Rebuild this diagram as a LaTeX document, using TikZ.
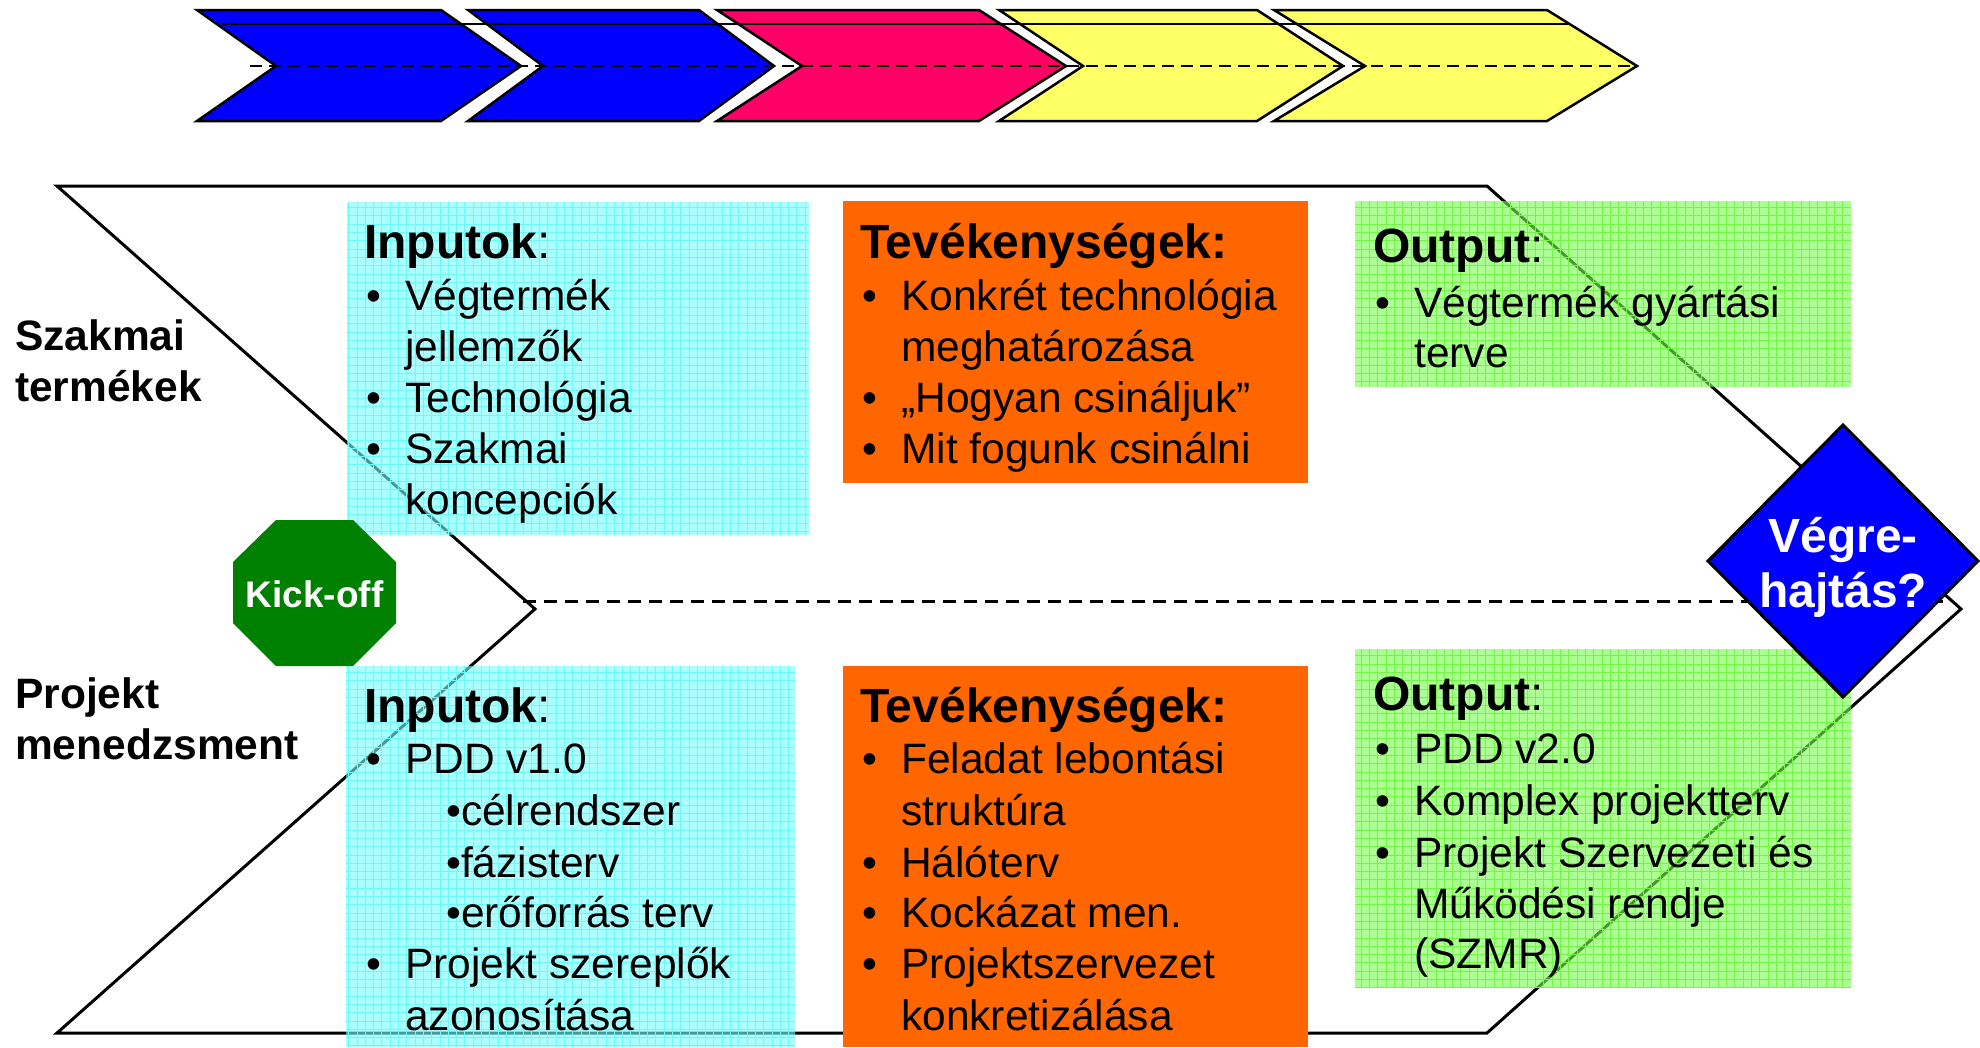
\documentclass[tikz,border=0pt]{standalone}
\usepackage{fontspec}
\setmainfont{Liberation Sans}
\definecolor{cyfill}{RGB}{118,255,255}
\definecolor{cygrid}{RGB}{110,248,248}
\definecolor{grfill}{RGB}{118,255,75}
\definecolor{grgrid}{RGB}{115,245,70}
\definecolor{orfill}{RGB}{255,102,0}
\definecolor{chblue}{RGB}{0,0,255}
\definecolor{chred}{RGB}{255,0,102}
\definecolor{chyel}{RGB}{255,255,102}
\definecolor{kgreen}{RGB}{0,128,0}
\newcommand\bodyf{\fontsize{42.5pt}{51pt}\selectfont}
\newcommand\headf{\fontsize{48pt}{55pt}\selectfont}
\newcommand\bulit[1]{\makebox[39pt][l]{•}#1}
\tikzset{
  ln/.style={inner sep=0pt, anchor=base west, font=\bodyf},
  hd/.style={inner sep=0pt, anchor=base west, font=\headf},
  lab/.style={inner sep=0pt, anchor=base west, font=\bodyf\bfseries},
  topchev/.style={draw=black, line width=2.5pt, line join=miter},
  mainline/.style={draw=black, line width=3pt, line join=miter},
}
\newcommand\gbox[5]{% fill, grid, opacity, corner1, corner2
  \fill[#1, fill opacity=#3] #4 rectangle #5;
  \begin{scope}
    \clip #4 rectangle #5;
    \draw[#2, line width=0.8pt, step=8.3pt] #4 grid #5;
  \end{scope}
}
\begin{document}
\begin{tikzpicture}[x=1pt,y=-1pt]
\useasboundingbox[fill=white] (0,0) rectangle (1980,1047);

% ---- top chevrons ----
\filldraw[topchev, fill=chblue] (197,10) -- (441,10) -- (521,66) -- (441,121) -- (197,121) -- (276,66) -- cycle;
\filldraw[topchev, fill=chblue] (468,10) -- (699,10) -- (774,66) -- (699,121) -- (468,121) -- (543,66) -- cycle;
\filldraw[topchev, fill=chred] (717,10) -- (979,10) -- (1066,66) -- (979,121) -- (717,121) -- (802,66) -- cycle;
\filldraw[topchev, fill=chyel] (999,10) -- (1257,10) -- (1343,66) -- (1257,121) -- (999,121) -- (1083,66) -- cycle;
\filldraw[topchev, fill=chyel] (1274,10) -- (1547,10) -- (1637,66) -- (1547,121) -- (1274,121) -- (1365,66) -- cycle;
\draw[line width=2.5pt] (222,24) -- (1568,24);
\draw[line width=2.5pt, dash pattern=on 12pt off 7pt] (250,66) -- (1637,66);

% ---- main chevron ----
\draw[mainline] (57,186) -- (1487,186) -- (1961,609) -- (1487,1033) -- (57,1033) -- (535,609) -- cycle;
\draw[line width=3pt, dash pattern=on 13pt off 8pt] (523,601) -- (1947,601);

% ---- boxes ----
\gbox{cyfill}{cygrid}{0.6}{(347,202)}{(809,535)}
\gbox{cyfill}{cygrid}{0.6}{(346,666)}{(795,1047)}
\gbox{grfill}{grgrid}{0.6}{(1355,201)}{(1851,387)}
\gbox{grfill}{grgrid}{0.6}{(1355,649)}{(1851,988)}
\fill[orfill] (843,201) rectangle (1308,483);
\fill[orfill] (843,666) rectangle (1308,1047);

% ---- left labels ----
\node[lab] (szak1) at (15,350) {Szakmai};
\node[lab] (szak2) at (15,401) {termékek};
\node[lab] (proj1) at (15,708) {Projekt};
\node[lab] (proj2) at (15,759) {menedzsment};

% ---- top inputs ----
\node[hd] (tih) at (364,258) {\textbf{Inputok}:};
\node[ln] (ti1) at (366,310) {\bulit{Végtermék}};
\node[ln] (ti2) at (405,361) {jellemzők};
\node[ln] (ti3) at (366,412) {\bulit{Technológia}};
\node[ln] (ti4) at (366,463) {\bulit{Szakmai}};
\node[ln] (ti5) at (405,514) {koncepciók};

% ---- top activities ----
\node[hd] (tth) at (860,258) {\textbf{Tevékenységek:}};
\node[ln] (tt1) at (862,310) {\bulit{Konkrét technológia}};
\node[ln] (tt2) at (901,361) {meghatározása};
\node[ln] (tt3) at (862,412) {\bulit{„Hogyan csináljuk”}};
\node[ln] (tt4) at (862,463) {\bulit{Mit fogunk csinálni}};

% ---- top output ----
\node[hd] (toh) at (1373,262) {\textbf{Output}:};
\node[ln] (to1) at (1375,317) {\bulit{Végtermék gyártási}};
\node[ln] (to2) at (1414,367) {terve};

% ---- bottom inputs ----
\node[hd] (bih) at (364,722) {\textbf{Inputok}:};
\node[ln] (bi1) at (366,773) {\bulit{PDD v1.0}};
\node[ln] (bi2) at (446,825) {•célrendszer};
\node[ln] (bi3) at (446,877) {•fázisterv};
\node[ln] (bi4) at (446,927) {•erőforrás terv};
\node[ln] (bi5) at (366,978) {\bulit{Projekt szereplők}};
\node[ln] (bi6) at (405,1030) {azonosítása};

% ---- bottom activities ----
\node[hd] (bth) at (860,722) {\textbf{Tevékenységek:}};
\node[ln] (bt1) at (862,773) {\bulit{Feladat lebontási}};
\node[ln] (bt2) at (901,825) {struktúra};
\node[ln] (bt3) at (862,877) {\bulit{Hálóterv}};
\node[ln] (bt4) at (862,927) {\bulit{Kockázat men.}};
\node[ln] (bt5) at (862,978) {\bulit{Projektszervezet}};
\node[ln] (bt6) at (901,1030) {konkretizálása};

% ---- bottom output ----
\node[hd] (boh) at (1373,710) {\textbf{Output}:};
\node[ln] (bo1) at (1375,763) {\bulit{PDD v2.0}};
\node[ln] (bo2) at (1375,815) {\bulit{Komplex projektterv}};
\node[ln] (bo3) at (1375,867) {\bulit{Projekt Szervezeti és}};
\node[ln] (bo4) at (1414,918) {Működési rendje};
\node[ln] (bo5) at (1414,968) {(SZMR)};

% ---- kick-off octagon ----
\fill[kgreen] (276,520) -- (353,520) -- (396,562) -- (396,623) -- (353,666) -- (276,666) -- (233,623) -- (233,562) -- cycle;
\node[inner sep=0pt, anchor=base, text=white, font=\fontsize{37pt}{44pt}\selectfont\bfseries] (kick) at (314.5,607) {Kick-off};

% ---- diamond ----
\filldraw[fill=chblue, draw=black, line width=3pt, line join=miter] (1843,425) -- (1978,561) -- (1843,697) -- (1708,561) -- cycle;
\node[inner sep=0pt, anchor=base, text=white, font=\headf\bfseries] (veg1) at (1843,552) {Végre-};
\node[inner sep=0pt, anchor=base, text=white, font=\headf\bfseries] (veg2) at (1843,607) {hajtás?};
\end{tikzpicture}
\end{document}
